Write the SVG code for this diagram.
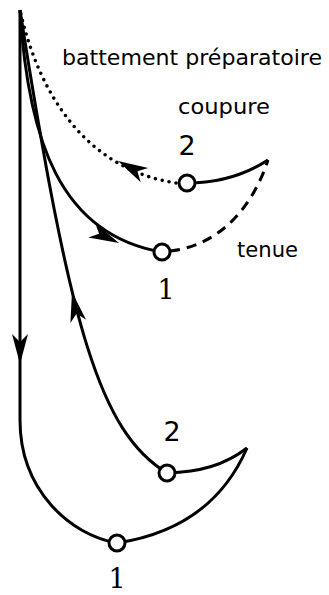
<svg xmlns="http://www.w3.org/2000/svg" xmlns:xlink="http://www.w3.org/1999/xlink" width="329" height="595" viewBox="0 0 329 595">
<style>
.ln{fill:none;stroke:#000;stroke-width:3}
.dash{stroke-dasharray:10 7}
.dot{stroke-dasharray:0 7;stroke-linecap:round;stroke-width:3.6}
.nd{fill:#fff;stroke:#000;stroke-width:3}
.t{font-family:"DejaVu Sans",sans-serif;font-size:22px;fill:#000}
.d{font-family:"DejaVu Sans",sans-serif;font-size:27px;fill:#000}
.s{font-family:"DejaVu Serif",serif;font-size:27px;fill:#000}
</style>
<defs>
<path id="ah" d="M0,0 L-30,-8 L-22,0 L-30,8 Z" fill="#000"/>
</defs>
<g id="connectors">
<path class="ln" d="M20,10 L20,420 C20,490 70,535 117,543"/>
<path class="ln" d="M117,543 C170,535 220,510 247,448"/>
<path class="ln" d="M247,448 C225,465 200,472 167,473"/>
<path class="ln" d="M167,473 C100,432 70,330 20,10"/>
<path class="ln" d="M20,10 C28,140 60,235 162,252"/>
<path class="ln dash" d="M170,251 C225,245 255,200 268,160"/>
<path class="ln" d="M187,183 C220,183 245,175 268,160"/>
<path class="ln dot" d="M176,183 C90,170 40,100 20,10"/>
<use xlink:href="#ah" transform="translate(20,364) rotate(90)"/>
<use xlink:href="#ah" transform="translate(72,292) rotate(-102)"/>
<use xlink:href="#ah" transform="translate(119,243) rotate(25)"/>
<use xlink:href="#ah" transform="translate(118,161) rotate(208)"/>
</g>
<g id="n-upper2"><circle class="nd" cx="187" cy="183" r="8"/><text class="d" x="187" y="155" text-anchor="middle">2</text></g>
<g id="n-upper1"><circle class="nd" cx="162" cy="252" r="8"/><text class="s" x="166" y="299" text-anchor="middle">1</text></g>
<g id="n-lower2"><circle class="nd" cx="167" cy="473" r="8"/><text class="d" x="172" y="441" text-anchor="middle">2</text></g>
<g id="n-lower1"><circle class="nd" cx="117" cy="543" r="8"/><text class="s" x="117" y="588" text-anchor="middle">1</text></g>
<g id="labels">
<text class="t" x="62" y="65" textLength="260" lengthAdjust="spacingAndGlyphs">battement préparatoire</text>
<text class="t" x="178" y="114" textLength="92" lengthAdjust="spacingAndGlyphs">coupure</text>
<text class="t" x="237" y="257" textLength="61" lengthAdjust="spacingAndGlyphs">tenue</text>
</g>
</svg>
